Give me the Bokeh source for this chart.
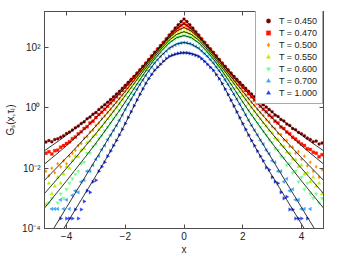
import numpy as np
from bokeh.plotting import figure
from bokeh.models import (Range1d, FixedTicker, CustomJSTickFormatter, LinearAxis,
                          LogAxis, Legend, LegendItem)
from bokeh.embed import file_html
from bokeh.resources import INLINE

# ---------------- data (log10 of G_s) ----------------
TEMPS = ["0.450", "0.470", "0.500", "0.550", "0.600", "0.700", "1.000"]
COLORS = ["#7a0000", "#ff1500", "#ff8c00", "#b6f000", "#74ff8e", "#3aa6f4", "#2b3ff0"]
MARKERS = ["circle", "square", "diamond", "triangle", "inverted_triangle", "triangle", "triangle"]
ANGLES = [0, 0, 0, 0, 0, np.pi / 2, -np.pi / 2]

DATA_X = [round(-4.7 + 0.1 * i, 1) for i in range(95)]

N = None
LOG_T045 = [-1.13, -1.08, -1.12, -1.05, -1.02, -0.97, -0.92, -0.85, -0.80, -0.73,
            -0.66, -0.60, -0.52, -0.46, -0.36, -0.30, -0.21, -0.15, -0.05, 0.03,
            0.11, 0.19, 0.28, 0.37, 0.46, 0.55, 0.65, 0.75, 0.85, 0.95,
            1.05, 1.16, 1.27, 1.38, 1.49, 1.61, 1.73, 1.85, 1.96, 2.07,
            2.18, 2.30, 2.42, 2.53, 2.65, 2.76, 2.87,
            2.95,
            2.87, 2.76, 2.65, 2.53, 2.42, 2.30, 2.18, 2.07, 1.96, 1.85,
            1.73, 1.61, 1.49, 1.38, 1.27, 1.16, 1.05, 0.95, 0.85, 0.75,
            0.65, 0.55, 0.46, 0.37, 0.28, 0.19, 0.11, 0.03, -0.05, -0.13,
            -0.23, -0.28, -0.38, -0.43, -0.53, -0.58, -0.68, -0.72, -0.81, -0.86,
            -0.92, -1.00, -1.05, -1.12, -1.10, -1.20, -1.16]
LOG_T047 = [-1.50, -1.45, -1.53, -1.42, -1.40, -1.30, -1.25, -1.18, -1.12, -1.02,
            -0.96, -0.86, -0.79, -0.68, -0.62, -0.50, -0.44, -0.32, -0.22, -0.14,
            -0.04, 0.06, 0.16, 0.26, 0.37, 0.47, 0.58, 0.68, 0.79, 0.90,
            1.01, 1.12, 1.24, 1.36, 1.47, 1.59, 1.70, 1.82, 1.93, 2.04,
            2.16, 2.27, 2.38, 2.48, 2.57, 2.66, 2.74,
            2.80,
            2.74, 2.66, 2.57, 2.48, 2.38, 2.27, 2.16, 2.04, 1.93, 1.82,
            1.70, 1.59, 1.47, 1.36, 1.24, 1.12, 1.01, 0.90, 0.79, 0.68,
            0.58, 0.47, 0.37, 0.26, 0.16, 0.06, -0.04, -0.13, -0.24, -0.31,
            -0.44, -0.50, -0.63, -0.68, -0.80, -0.86, -0.97, -1.03, -1.12, -1.20,
            -1.25, -1.35, -1.38, -1.47, -1.50, -1.62, -1.55]
LOG_T050 = [-2.10, -2.25, -2.00, -2.15, -1.85, -1.95, -1.75, -1.85, -1.60, -1.50,
            -1.40, -1.25, -1.18, -1.00, -0.95, -0.80, -0.73, -0.58, -0.50, -0.36,
            -0.27, -0.15, -0.04, 0.08, 0.19, 0.31, 0.43, 0.55, 0.67, 0.79,
            0.91, 1.04, 1.16, 1.28, 1.41, 1.53, 1.65, 1.77, 1.89, 2.00,
            2.11, 2.22, 2.33, 2.42, 2.51, 2.58, 2.63,
            2.67,
            2.63, 2.58, 2.51, 2.42, 2.33, 2.22, 2.11, 2.00, 1.89, 1.77,
            1.65, 1.53, 1.41, 1.28, 1.16, 1.04, 0.91, 0.79, 0.67, 0.55,
            0.43, 0.31, 0.19, 0.08, -0.04, -0.15, -0.25, -0.39, -0.47, -0.62,
            -0.68, -0.84, -0.88, -1.06, -1.08, -1.28, -1.30, -1.50, -1.45, -1.70,
            -1.60, -1.92, -1.80, -2.10, -1.95, -2.30, -2.05]
LOG_T055 = [-3.20, -2.50, -2.85, -2.60, -2.30, -2.50, -2.20, -1.95, -2.00, -1.75,
            -1.60, -1.62, -1.40, -1.35, -1.15, -1.10, -0.95, -0.88, -0.72, -0.62,
            -0.48, -0.36, -0.24, -0.11, 0.02, 0.15, 0.28, 0.41, 0.54, 0.67,
            0.81, 0.94, 1.07, 1.20, 1.33, 1.45, 1.58, 1.70, 1.82, 1.93,
            2.04, 2.15, 2.25, 2.33, 2.40, 2.46, 2.51,
            2.53,
            2.51, 2.46, 2.40, 2.33, 2.25, 2.15, 2.04, 1.93, 1.82, 1.70,
            1.58, 1.45, 1.33, 1.20, 1.07, 0.94, 0.81, 0.67, 0.54, 0.41,
            0.28, 0.15, 0.02, -0.11, -0.24, -0.36, -0.50, -0.60, -0.75, -0.83,
            -1.00, -1.05, -1.23, -1.28, -1.47, -1.50, -1.70, -1.72, -1.95, -1.90,
            -2.20, -2.15, -2.45, -2.30, -2.60, -2.50, -2.85]
LOG_T060 = [N, -3.15, -3.00, N, -3.15, -2.85, -3.00, -2.70, -2.50, -2.35,
            -2.20, -2.10, -1.85, -1.80, -1.50, -1.50, -1.28, -1.20, -1.02, -0.92,
            -0.76, -0.64, -0.50, -0.36, -0.23, -0.09, 0.06, 0.20, 0.35, 0.50,
            0.64, 0.79, 0.94, 1.08, 1.23, 1.36, 1.49, 1.62, 1.74, 1.85,
            1.96, 2.06, 2.16, 2.23, 2.30, 2.35, 2.38,
            2.40,
            2.38, 2.35, 2.30, 2.23, 2.16, 2.06, 1.96, 1.85, 1.74, 1.62,
            1.49, 1.36, 1.23, 1.08, 0.94, 0.79, 0.64, 0.50, 0.35, 0.20,
            0.06, -0.09, -0.23, -0.36, -0.50, -0.64, -0.78, -0.90, -1.06, -1.15,
            -1.35, -1.40, -1.60, -1.65, -1.90, -1.85, -2.15, -2.10, -2.45, -2.30,
            -2.70, -2.50, -2.85, -3.00, -2.85, -3.15, -3.00]
LOG_T070 = [N, N, -3.35, -3.35, -3.35, -3.05, -3.35, -3.05, -3.35, -2.90,
            -2.75, -2.80, -2.45, -2.40, -2.10, -2.10, -1.90, -1.70, -1.60, -1.38,
            -1.25, -1.05, -0.90, -0.74, -0.58, -0.41, -0.23, -0.05, 0.12, 0.29,
            0.45, 0.62, 0.78, 0.93, 1.08, 1.23, 1.36, 1.49, 1.60, 1.71,
            1.80, 1.89, 1.98, 2.04, 2.09, 2.13, 2.16,
            2.17,
            2.16, 2.13, 2.09, 2.04, 1.98, 1.89, 1.80, 1.71, 1.60, 1.49,
            1.36, 1.23, 1.08, 0.93, 0.78, 0.62, 0.45, 0.29, 0.12, -0.05,
            -0.23, -0.41, -0.58, -0.74, -0.90, -1.07, -1.20, -1.40, -1.52, -1.75,
            -1.80, -2.10, -2.10, -2.45, -2.35, -2.75, -2.70, -3.05, -3.05, -3.35,
            -3.35, N, -3.35, N, N, N, N]
LOG_T100 = [N, N, N, N, N, -3.67, N, -3.67, -3.67, -3.67,
            -3.37, -3.67, -3.37, -3.10, -2.75, -2.80, -2.45, -2.40, -2.10, -1.95,
            -1.80, -1.60, -1.43, -1.25, -1.08, -0.90, -0.71, -0.52, -0.32, -0.13,
            0.07, 0.26, 0.45, 0.63, 0.81, 0.97, 1.11, 1.25, 1.35, 1.45,
            1.55, 1.64, 1.71, 1.75, 1.78, 1.81, 1.83,
            1.83,
            1.83, 1.81, 1.78, 1.75, 1.71, 1.64, 1.55, 1.45, 1.35, 1.25,
            1.11, 0.97, 0.81, 0.63, 0.45, 0.26, 0.07, -0.13, -0.32, -0.52,
            -0.71, -0.90, -1.08, -1.25, -1.43, -1.60, -1.75, -1.98, -2.05, -2.30,
            -2.45, -2.50, -2.80, -3.00, -2.95, -3.37, -3.37, -3.67, -3.67, -3.67,
            N, -3.67, N, N, N, N, N]
DATA = [LOG_T045, LOG_T047, LOG_T050, LOG_T055, LOG_T060, LOG_T070, LOG_T100]

# fitted curves (symmetric), log10 values at |x|
FIT_ABS_X = [0.0, 0.25, 0.5, 0.75, 1.0, 1.25, 1.5, 1.75, 2.0, 2.25,
             2.5, 2.75, 3.0, 3.25, 3.5, 3.75, 4.0, 4.25, 4.5, 4.75]
FIT_T045 = [2.95, 2.70, 2.42, 2.12, 1.85, 1.55, 1.27, 1.00, 0.75, 0.50, 0.28, 0.07, -0.14, -0.33, -0.52, -0.71, -0.90, -1.08, -1.25, -1.42]
FIT_T047 = [2.80, 2.62, 2.38, 2.10, 1.82, 1.53, 1.24, 0.95, 0.68, 0.42, 0.16, -0.09, -0.33, -0.57, -0.80, -1.03, -1.25, -1.46, -1.66, -1.86]
FIT_T050 = [2.67, 2.55, 2.33, 2.06, 1.77, 1.47, 1.16, 0.85, 0.55, 0.25, -0.04, -0.32, -0.60, -0.87, -1.13, -1.39, -1.65, -1.90, -2.15, -2.40]
FIT_T055 = [2.53, 2.44, 2.25, 1.99, 1.70, 1.39, 1.07, 0.74, 0.41, 0.08, -0.24, -0.55, -0.85, -1.14, -1.43, -1.72, -2.00, -2.28, -2.56, -2.84]
FIT_T060 = [2.40, 2.33, 2.16, 1.91, 1.62, 1.30, 0.94, 0.57, 0.20, -0.16, -0.50, -0.84, -1.17, -1.49, -1.80, -2.11, -2.42, -2.72, -3.02, -3.32]
FIT_T070 = [2.17, 2.12, 1.98, 1.76, 1.49, 1.16, 0.78, 0.37, -0.05, -0.50, -0.90, -1.30, -1.70, -2.10, -2.50, -2.90, -3.30, -3.70, -4.10, -4.50]
FIT_T100 = [1.83, 1.80, 1.71, 1.50, 1.25, 0.90, 0.45, -0.03, -0.52, -0.99, -1.43, -1.85, -2.25, -2.65, -3.05, -3.45, -3.85, -4.25, -4.65, -5.05]
FITS = [FIT_T045, FIT_T047, FIT_T050, FIT_T055, FIT_T060, FIT_T070, FIT_T100]

X_TICKS = [-4, -2, 0, 2, 4]
Y_TICKS = [1e-4, 1e-2, 1e0, 1e2]

FONT = "Liberation Sans"
AXIS_COLOR = "#4d4d4d"

# ---------------- figure ----------------
p = figure(width=338, height=257, x_range=Range1d(-4.75, 4.75),
           y_range=Range1d(1e-4, 10 ** 3.2), y_axis_type="log",
           output_backend="svg", toolbar_location=None,
           min_border_left=44, min_border_right=15, min_border_top=11,
           min_border_bottom=29)
p.grid.visible = False
p.outline_line_color = AXIS_COLOR
p.background_fill_color = "white"

xfmt = CustomJSTickFormatter(code="return tick < 0 ? '\u2212' + Math.abs(tick) : String(tick);")
yfmt = CustomJSTickFormatter(code="""
const e = Math.round(Math.log10(tick));
const sup = {'-':'\u207b','0':'\u2070','1':'\u00b9','2':'\u00b2','3':'\u00b3','4':'\u2074'};
return '10' + String(e).split('').map(c => sup[c]).join('');
""")
blank = CustomJSTickFormatter(code="return '';")


def style_axis(ax):
    ax.major_tick_in = 4
    ax.major_tick_out = 0
    ax.minor_tick_in = 0
    ax.minor_tick_out = 0
    ax.axis_line_color = AXIS_COLOR
    ax.major_tick_line_color = AXIS_COLOR
    ax.major_label_text_font = FONT
    ax.major_label_text_color = "#222222"
    ax.major_label_text_font_size = "10px"
    ax.major_label_standoff = 3
    ax.axis_label_text_font = FONT
    ax.axis_label_text_font_style = "normal"
    ax.axis_label_text_font_size = "10px"
    ax.axis_label_text_color = "#222222"
    ax.axis_label_standoff = 1


p.xaxis.ticker = FixedTicker(ticks=X_TICKS)
p.xaxis.formatter = xfmt
p.xaxis.axis_label = "x"
p.yaxis.ticker = FixedTicker(ticks=Y_TICKS)
p.yaxis.formatter = yfmt
p.yaxis.axis_label = "G\u209b(x,\u03c4\u2097)"
style_axis(p.xaxis[0])
style_axis(p.yaxis[0])
p.yaxis[0].major_label_standoff = 4
p.yaxis[0].axis_label_standoff = 3

top = LinearAxis(ticker=FixedTicker(ticks=X_TICKS), formatter=blank)
right = LogAxis(ticker=FixedTicker(ticks=Y_TICKS), formatter=blank)
style_axis(top)
style_axis(right)
top.major_label_standoff = 0
right.major_label_standoff = 0
p.add_layout(top, "above")
p.add_layout(right, "right")

items = []
for T, logs, col, mk, ang in zip(TEMPS, DATA, COLORS, MARKERS, ANGLES):
    ys = [10 ** v if v is not None else np.nan for v in logs]
    size = 3.0 if mk in ("circle", "square") else 3.6
    r = p.scatter(DATA_X, ys, marker=mk, size=size, angle=ang,
                  fill_color=col, line_color=col, line_width=0.3)
    items.append(LegendItem(label="T = " + T, renderers=[r]))

for fit in FITS:
    fx = [-v for v in FIT_ABS_X[::-1]] + FIT_ABS_X[1:]
    fy = [10 ** v for v in fit[::-1]] + [10 ** v for v in fit[1:]]
    p.line(fx, fy, line_color="black", line_width=0.8)

legend = Legend(items=items, location=(211, 124))
legend.label_text_font = FONT
legend.label_text_font_size = "9px"
legend.label_text_color = "#222222"
legend.label_height = 11
legend.glyph_height = 11
legend.glyph_width = 14
legend.label_standoff = 4
legend.spacing = 1
legend.padding = 5
legend.margin = 0
legend.border_line_color = "#555555"
legend.border_line_width = 1
legend.background_fill_alpha = 1.0
p.add_layout(legend, "center")

open("out.html", "w").write(file_html(p, INLINE))
